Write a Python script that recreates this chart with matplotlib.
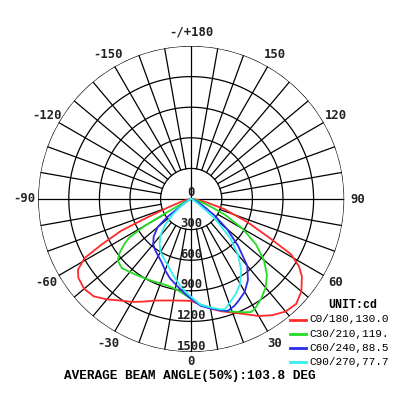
import numpy as np
import matplotlib
matplotlib.use("Agg")
import matplotlib.pyplot as plt
from matplotlib.lines import Line2D

# angulos gamma (negativo = semiplano C180/210/240/270)
ang_c0 = [-90, -80, -75, -70, -67, -65.6, -63, -61, -58, -55, -50, -45, -40, -35, -30, -25, -20, -15, -10, -5, 0,
          5, 10, 15, 20, 25, 30, 35, 40, 45, 50, 55, 58, 61, 63.4, 67.6, 73, 78, 84, 90]
cd_c0 = [0, 40, 100, 245, 500, 755, 990, 1195, 1310, 1350, 1370, 1350, 1285, 1215, 1165, 1110, 1060, 1030, 1010, 1000, 1000,
         1040, 1090, 1140, 1185, 1245, 1325, 1390, 1440, 1455, 1410, 1325, 1245, 1120, 875, 600, 340, 150, 50, 0]

ang_c30 = [-90, -70, -66, -63, -61, -60, -58, -56, -53, -50, -45, -40, -35, -30, -25, -20, -15, -10, -5, 0,
           5, 10, 15, 20, 25, 28, 30, 35, 40, 45, 50, 55, 60, 65, 70, 75, 80, 90]
cd_c30 = [0, 10, 40, 120, 300, 530, 720, 790, 880, 940, 960, 935, 915, 900, 890, 880, 880, 895, 930, 980,
          1040, 1080, 1130, 1175, 1225, 1255, 1245, 1195, 1135, 1050, 930, 775, 580, 365, 175, 70, 20, 0]

ang_c60 = [-90, -70, -60, -55, -53, -50, -45, -40, -35, -30, -25, -20, -15, -10, -5, 0,
           5, 10, 15, 18, 22, 25, 30, 35, 40, 45, 50, 55, 60, 65, 70, 90]
cd_c60 = [0, 10, 60, 145, 295, 430, 520, 580, 615, 645, 685, 745, 805, 855, 915, 980,
          1050, 1090, 1130, 1155, 1130, 1100, 1050, 970, 855, 650, 460, 275, 135, 60, 20, 0]

ang_c90 = [-90, -70, -60, -55, -50, -45, -40, -35, -30, -25, -20, -15, -10, -5, 0,
           5, 10, 15, 17, 20, 25, 30, 35, 40, 45, 50, 52, 55, 60, 70, 90]
cd_c90 = [0, 10, 50, 120, 235, 365, 470, 540, 600, 640, 685, 745, 815, 890, 960,
          1040, 1080, 1120, 1130, 1090, 1030, 960, 855, 715, 540, 315, 195, 100, 40, 5, 0]

labels = ["C0/180,130.0", "C30/210,119.", "C60/240,88.5", "C90/270,77.7"]
colores = ["#ff2a2a", "#22dd22", "#2b2bee", "#33f0f0"]
angulos_txt = [0, 30, 60, 90, 120, 150, 180, -150, -120, -90, -60, -30]
anillos = [300, 600, 900, 1200, 1500]

fig = plt.figure(figsize=(4, 4), dpi=100)
ax = fig.add_axes([0.0955, 0.12, 0.765, 0.765], projection="polar")
ax.set_theta_zero_location("S")
ax.set_theta_direction(1)
ax.set_ylim(0, 1500)
ax.grid(False)
ax.set_xticks([])
ax.set_yticks([])
ax.spines["polar"].set_visible(False)

# rejilla
th = np.linspace(0, 2 * np.pi, 361)
for r in anillos:
    ax.plot(th, np.full_like(th, r), color="black", lw=0.9, zorder=1)
for a in range(0, 360, 10):
    t = np.deg2rad(a)
    r0 = 0 if a % 90 == 0 else 300
    ax.plot([t, t], [r0, 1500], color="black", lw=0.9, zorder=1)

# curvas
for angs, vals, c in zip([ang_c0, ang_c30, ang_c60, ang_c90],
                         [cd_c0, cd_c30, cd_c60, cd_c90], colores):
    ax.plot(np.deg2rad(angs), vals, color=c, lw=1.3, zorder=3)

# etiquetas de angulo
for a in angulos_txt:
    s = "-/+180" if a == 180 else str(a)
    r = 1590 if a == 0 else 1635
    ax.text(np.deg2rad(a), r, s, ha="center", va="center",
            family="DejaVu Sans Mono", fontweight="bold", fontsize=8.8,
            color="#222222", clip_on=False)

# etiquetas radiales
for r in [0] + anillos:
    ax.annotate(str(r), xy=(0, r), xytext=(0, 6), textcoords="offset pixels",
                ha="center", va="center", family="DejaVu Sans Mono",
                fontweight="bold", fontsize=8.8, color="#222222",
                zorder=4, annotation_clip=False)

# leyenda
fig.text(328 / 400, 1 - 305 / 400, "UNIT:cd", ha="left", va="center",
         family="Liberation Mono", fontweight="bold", fontsize=8.4)
for i, (lab, c) in enumerate(zip(labels, colores)):
    y = 1 - (319.5 + 14.1 * i) / 400
    fig.add_artist(Line2D([290 / 400, 306 / 400], [y, y], color=c, lw=2))
    fig.text(309 / 400, y, lab, ha="left", va="center",
             family="Liberation Mono", fontsize=8)

fig.text(190 / 400, 1 - 376 / 400, "AVERAGE BEAM ANGLE(50%):103.8 DEG",
         ha="center", va="center", family="Liberation Mono",
         fontweight="bold", fontsize=9.2)

fig.savefig("out.png", dpi=100, facecolor="white")
